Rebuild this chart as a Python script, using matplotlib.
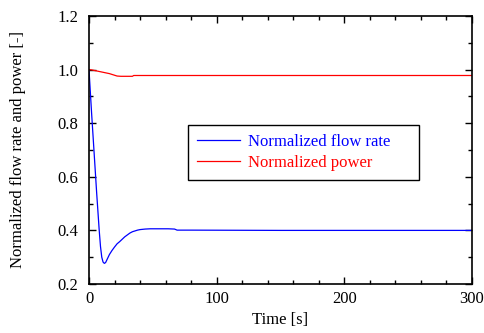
import matplotlib
matplotlib.use("Agg")
import matplotlib.pyplot as plt
from matplotlib.ticker import MultipleLocator, FormatStrFormatter

plt.rcParams['font.family'] = ['Liberation Serif', 'DejaVu Serif']

# Normalized flow rate
t_flow = [0, 2, 4, 6, 8, 9, 10, 11, 12, 13, 14, 16, 18, 20, 22, 24, 26, 28, 30,
          32, 34, 36, 38, 40, 44, 48, 55, 62, 67, 69, 80, 150, 300]
flow = [1.0, 0.84, 0.69, 0.54, 0.40, 0.34, 0.30, 0.282, 0.277, 0.28, 0.29, 0.31,
        0.325, 0.338, 0.35, 0.358, 0.367, 0.376, 0.383, 0.39, 0.395, 0.398, 0.401,
        0.403, 0.405, 0.406, 0.406, 0.406, 0.405, 0.401, 0.401, 0.400, 0.400]

# Normalized power
t_power = [0, 2, 4, 6, 8, 10, 12, 14, 16, 18, 20, 22, 25, 30, 34, 35, 36, 100, 300]
power = [1.0, 0.999, 0.997, 0.995, 0.993, 0.991, 0.989, 0.987, 0.985, 0.982,
         0.979, 0.976, 0.975, 0.975, 0.975, 0.978, 0.978, 0.978, 0.978]

fig = plt.figure(figsize=(4.84, 3.33), dpi=100)
ax = fig.add_axes([89/484, 49/333, 383/484, 268/333])

ax.plot(t_flow, flow, color='#0000ff', lw=0.9, label='Normalized flow rate')
ax.plot(t_power, power, color='#ff0000', lw=0.9, label='Normalized power')

ax.set_xlim(0, 300)
ax.set_ylim(0.2, 1.2)
ax.xaxis.set_major_locator(MultipleLocator(100))
ax.xaxis.set_minor_locator(MultipleLocator(20))
ax.yaxis.set_major_locator(MultipleLocator(0.2))
ax.yaxis.set_minor_locator(MultipleLocator(0.1))
ax.yaxis.set_major_formatter(FormatStrFormatter('%.1f'))
ax.xaxis.set_major_formatter(FormatStrFormatter('%d'))
ax.tick_params(which='both', direction='in', top=True, right=True, labelsize=12, width=1.0)
ax.tick_params(which='major', length=5)
ax.tick_params(which='minor', length=3)
ax.tick_params(axis='x', pad=5)
ax.tick_params(axis='y', pad=8)
for s in ax.spines.values():
    s.set_linewidth(1.2)

ax.set_xlabel('Time [s]', fontsize=12, labelpad=4)
ax.set_ylabel('Normalized flow rate and power [-]', fontsize=12, labelpad=22)

leg = ax.legend(loc='upper left', bbox_to_anchor=(0.258, 0.392, 0.604, 0.203),
                mode='expand', fontsize=12,
                frameon=True, fancybox=False, edgecolor='black', framealpha=1,
                handlelength=2.6, borderpad=0.55, labelspacing=0.3, handletextpad=0.45,
                borderaxespad=0)
leg.get_frame().set_linewidth(1.0)
for txt, line in zip(leg.get_texts(), leg.get_lines()):
    txt.set_color(line.get_color())

fig.savefig('out.png', dpi=100)
